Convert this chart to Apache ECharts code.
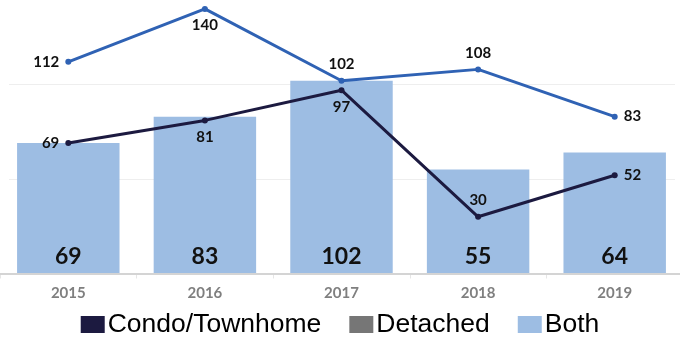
<!DOCTYPE html>
<html>
<head>
<meta charset="utf-8">
<script src="https://cdn.jsdelivr.net/npm/echarts@6/dist/echarts.min.js"></script>
<style>
  html, body { margin: 0; padding: 0; background: #fff; }
  #chart { width: 680px; height: 341px; }
</style>
</head>
<body>
<div id="chart"></div>
<script>
// data
var years = ['2015', '2016', '2017', '2018', '2019'];
var condo = [69, 81, 97, 30, 52];
var detached = [112, 140, 102, 108, 83];
var both = [69, 83, 102, 55, 64];

// where each point label sits
var condoLabelPos = ['left', 'bottom', 'bottom', 'top', 'right'];
var detachedLabelPos = ['left', 'bottom', 'top', 'top', 'right'];

var labelFont = { fontFamily: 'Lato', fontWeight: 'bold', fontSize: 15, color: '#111' };

function withLabels(vals, pos) {
	return vals.map(function (v, i) {
		return { value: v, label: { position: pos[i] } };
	});
}

var chart = echarts.init(document.getElementById('chart'));
var option = {
	animation: false,
	grid: [
		{ left: 0, width: 683, top: -10, height: 283.5, outerBoundsMode: 'none', containLabel: false },
		{ left: 9, width: 666, top: -10, height: 283.5, outerBoundsMode: 'none', containLabel: false } // gridlines only
	],
	legend: {
		bottom: -2,
		left: 'center',
		icon: 'rect',
		itemWidth: 24,
		itemHeight: 17,
		itemGap: 28,
		textStyle: { fontFamily: 'Liberation Sans', fontSize: 26.5, color: '#000', padding: [0, 0, 0, -2] },
		data: [
			{ name: 'Condo/Townhome', itemStyle: { color: '#1c1a40' } },
			{ name: 'Detached', itemStyle: { color: '#767676' } },
			{ name: 'Both', itemStyle: { color: '#9dbde3' } }
		]
	},
	xAxis: [
		{
			type: 'category',
			gridIndex: 0,
			data: years,
			axisLine: { show: false },
			axisTick: { show: true, length: 5, lineStyle: { color: '#e6e6e6' } },
			axisLabel: { margin: 12, fontFamily: 'Lato', fontWeight: 'bold', fontSize: 15, color: '#7f7f7f' }
		},
		{
			type: 'category',
			gridIndex: 1,
			data: years,
			axisLine: { show: false },
			axisTick: { show: false },
			axisLabel: { show: false }
		}
	],
	yAxis: [
		{
			type: 'value', gridIndex: 0, min: 0, max: 150, interval: 50,
			axisLabel: { show: false }, axisLine: { show: false },
			axisTick: { show: false }, splitLine: { show: false }
		},
		{
			type: 'value', gridIndex: 1, min: 0, max: 150, interval: 50,
			axisLabel: { show: false }, axisLine: { show: false },
			axisTick: { show: false },
			splitLine: { show: true, showMinLine: false, lineStyle: { color: '#eeeeee', width: 1 } }
		}
	],
	series: [
		{
			name: 'Both',
			type: 'bar',
			barWidth: '75%',
			data: both,
			itemStyle: { color: '#9dbde3' },
			label: {
				show: true, position: 'insideBottom', distance: 5,
				fontFamily: 'Lato', fontWeight: 'bold', fontSize: 23, color: '#111'
			},
			// baseline
			markLine: {
				silent: true,
				symbol: 'none',
				label: { show: false },
				lineStyle: { color: '#d4d4d4', width: 2, type: 'solid' },
				data: [{ yAxis: 0 }]
			},
			z: 1
		},
		{
			name: 'Condo/Townhome',
			type: 'line',
			data: withLabels(condo, condoLabelPos),
			symbol: 'circle',
			symbolSize: 6,
			lineStyle: { color: '#1c1a40', width: 3 },
			itemStyle: { color: '#1c1a40' },
			label: Object.assign({ show: true, distance: 6 }, labelFont),
			z: 3
		},
		{
			name: 'Detached',
			type: 'line',
			data: withLabels(detached, detachedLabelPos),
			symbol: 'circle',
			symbolSize: 6,
			lineStyle: { color: '#2f62b4', width: 3 },
			itemStyle: { color: '#2f62b4' },
			label: Object.assign({ show: true, distance: 6 }, labelFont),
			z: 3
		}
	]
};
chart.setOption(option);
</script>
</body>
</html>
